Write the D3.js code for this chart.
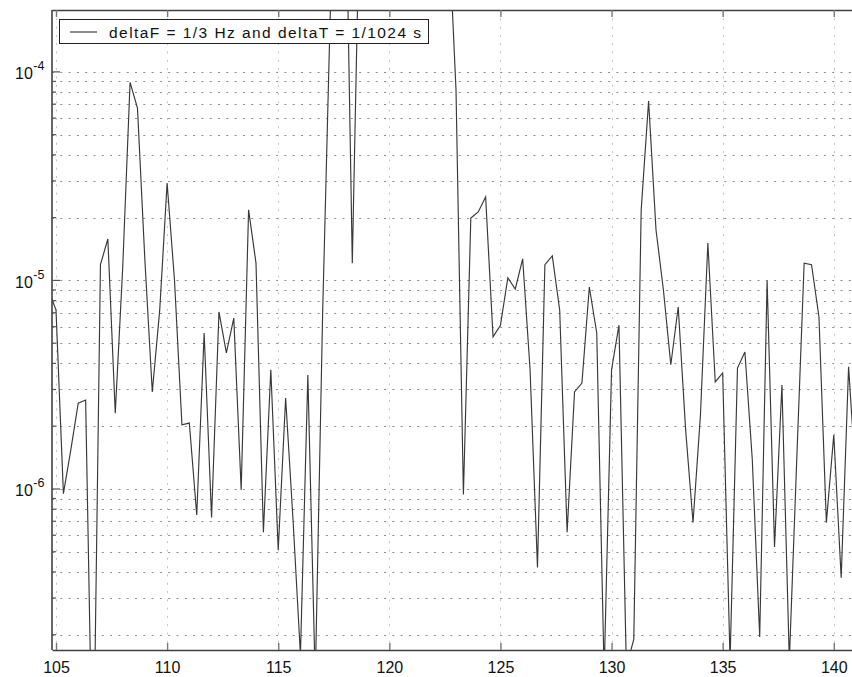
<!DOCTYPE html>
<html>
<head>
<meta charset="utf-8">
<script src="https://cdn.jsdelivr.net/npm/d3@7/dist/d3.min.js"></script>
<style>
  html, body { margin: 0; padding: 0; background: #fff; }
  svg { display: block; }
  text { font-family: "Liberation Sans", Arial, Helvetica, sans-serif; fill: #111; }
</style>
</head>
<body>
<svg id="chart" width="852" height="677"></svg>
<script>
// Power spectrum, one value per frequency bin (bin width deltaF)
const freqStart = 104 + 2 / 3;
const deltaF = 1 / 3;
const power = [
  9.0e-6, 7.2e-6, 9.5e-7, 1.54e-6, 2.58e-6, 2.67e-6, 3.0e-8, 1.19e-5, 1.58e-5, 2.31e-6,
  1.14e-5, 8.9e-5, 6.7e-5, 1.25e-5, 2.92e-6, 7.2e-6, 2.93e-5, 1.0e-5, 2.03e-6, 2.07e-6,
  7.5e-7, 5.6e-6, 7.3e-7, 7.06e-6, 4.49e-6, 6.6e-6, 9.9e-7, 2.18e-5, 1.21e-5, 6.2e-7,
  3.73e-6, 5.1e-7, 2.73e-6, 7.1e-7, 1.6e-7, 3.52e-6, 1.2e-7, 7.06e-6, 1.77e-4, 2.5e-3,
  1.5e-3, 1.21e-5, 6.7e-4, 1.8e-3, 2.6e-3, 3.1e-3, 2.2e-3, 1.4e-3, 2.9e-3, 3.4e-3,
  2.0e-3, 1.1e-3, 1.9e-3, 1.3e-3, 5.0e-4, 8.2e-5, 9.4e-7, 1.99e-5, 2.13e-5, 2.51e-5,
  5.36e-6, 6.1e-6, 1.03e-5, 9.1e-6, 1.27e-5, 3.73e-6, 4.2e-7, 1.19e-5, 1.31e-5, 7.2e-6,
  6.2e-7, 2.92e-6, 3.22e-6, 9.3e-6, 5.6e-6, 1.3e-7, 3.73e-6, 6.1e-6, 1.4e-7, 1.9e-7,
  2.18e-5, 7.25e-5, 1.75e-5, 9.0e-6, 3.94e-6, 7.46e-6, 1.92e-6, 6.9e-7, 2.26e-6, 1.51e-5,
  3.26e-6, 3.6e-6, 1.5e-7, 3.8e-6, 4.54e-6, 1.38e-6, 1.95e-7, 1.0e-5, 5.27e-7, 3.15e-6,
  1.5e-7, 1.38e-6, 1.21e-5, 1.19e-5, 6.68e-6, 6.9e-7, 1.82e-6, 3.75e-7, 3.85e-6, 1.08e-6
];
const freq = power.map((_, i) => freqStart + i * deltaF);

const xTickValues = [105, 110, 115, 120, 125, 130, 135, 140];
const xDomain = [104.82, 140.82];
const yDomain = [1.69e-7, 1.98e-4];
const legendLabel = "deltaF = 1/3 Hz and deltaT = 1/1024 s";

// Plot frame
const L = 52, R = 852, T = 10, B = 650;

const svg = d3.select("#chart");
const x = d3.scaleLinear().domain(xDomain).range([L, R]);
const y = d3.scaleLog().domain(yDomain).range([B, T]);

const yAll = y.ticks();                       // 2..9 x 10^n plus decades
const isDecade = v => Math.abs(Math.log10(v) - Math.round(Math.log10(v))) < 1e-9;

// Grid
const grid = svg.append("g");
grid.selectAll("line.h").data(yAll).join("line")
  .attr("x1", L).attr("x2", R)
  .attr("y1", d => Math.round(y(d)) + 0.5).attr("y2", d => Math.round(y(d)) + 0.5)
  .attr("stroke", "#8e8e8e").attr("stroke-width", 1)
  .attr("stroke-dasharray", "2,6.3");
grid.selectAll("line.v").data(xTickValues).join("line")
  .attr("x1", d => Math.round(x(d)) + 0.5).attr("x2", d => Math.round(x(d)) + 0.5)
  .attr("y1", T).attr("y2", B)
  .attr("stroke", "#c4c4c4").attr("stroke-width", 1)
  .attr("stroke-dasharray", "2,6.3");

// Data trace
svg.append("clipPath").attr("id", "plotClip")
  .append("rect").attr("x", L).attr("y", T).attr("width", R - L).attr("height", B - T);

const line = d3.line()
  .x((d, i) => x(freq[i]))
  .y(d => y(d));

svg.append("path")
  .datum(power)
  .attr("clip-path", "url(#plotClip)")
  .attr("fill", "none")
  .attr("stroke", "#383838")
  .attr("stroke-width", 1.15)
  .attr("stroke-linejoin", "miter")
  .attr("d", line);

// Axes
const axisColor = "#404040";
const bottomAxis = svg.append("g")
  .attr("transform", `translate(0,${B})`)
  .call(d3.axisBottom(x).tickValues(xTickValues).tickSize(-7).tickSizeOuter(0).tickPadding(12));
const topAxis = svg.append("g")
  .attr("transform", `translate(0,${T})`)
  .call(d3.axisTop(x).tickValues(xTickValues).tickSize(-7).tickSizeOuter(0).tickFormat(""));
[bottomAxis, topAxis].forEach(g => {
  g.select(".domain").attr("stroke", axisColor).attr("stroke-width", 1.6);
  g.selectAll(".tick line").attr("stroke", "#777").attr("stroke-width", 1.4);
  g.selectAll(".tick text").attr("font-size", 16).attr("fill", "#111")
    .attr("font-family", "Liberation Sans, Arial, Helvetica, sans-serif");
});

// Left axis (log): long ticks at decades, short at 2..9
const left = svg.append("g");
left.append("line").attr("x1", L).attr("x2", L).attr("y1", T).attr("y2", B)
  .attr("stroke", axisColor).attr("stroke-width", 1.6);
left.selectAll("line.t").data(yAll).join("line")
  .attr("x1", L).attr("x2", d => L + (isDecade(d) ? 8 : 4))
  .attr("y1", d => y(d)).attr("y2", d => y(d))
  .attr("stroke", "#555").attr("stroke-width", 1.2);

const labels = left.selectAll("text.yl").data(yAll.filter(isDecade)).join("text")
  .attr("x", 15).attr("y", d => y(d) + 7.5)
  .attr("font-size", 16);
labels.append("tspan").text("10");
labels.append("tspan")
  .attr("font-size", 12.5).attr("dx", 0.5).attr("dy", -9)
  .text(d => "-" + Math.round(-Math.log10(d)));

// Legend
const lg = svg.append("g");
lg.append("rect").attr("x", 59.5).attr("y", 19.5).attr("width", 369).attr("height", 24)
  .attr("fill", "#fff").attr("stroke", "#222").attr("stroke-width", 1);
lg.append("line").attr("x1", 70).attr("x2", 97).attr("y1", 32).attr("y2", 32)
  .attr("stroke", "#383838").attr("stroke-width", 1.15);
lg.append("text").attr("x", 109).attr("y", 37.5)
  .attr("font-size", 15.5)
  .attr("textLength", 312).attr("lengthAdjust", "spacing")
  .text(legendLabel);
</script>
</body>
</html>
